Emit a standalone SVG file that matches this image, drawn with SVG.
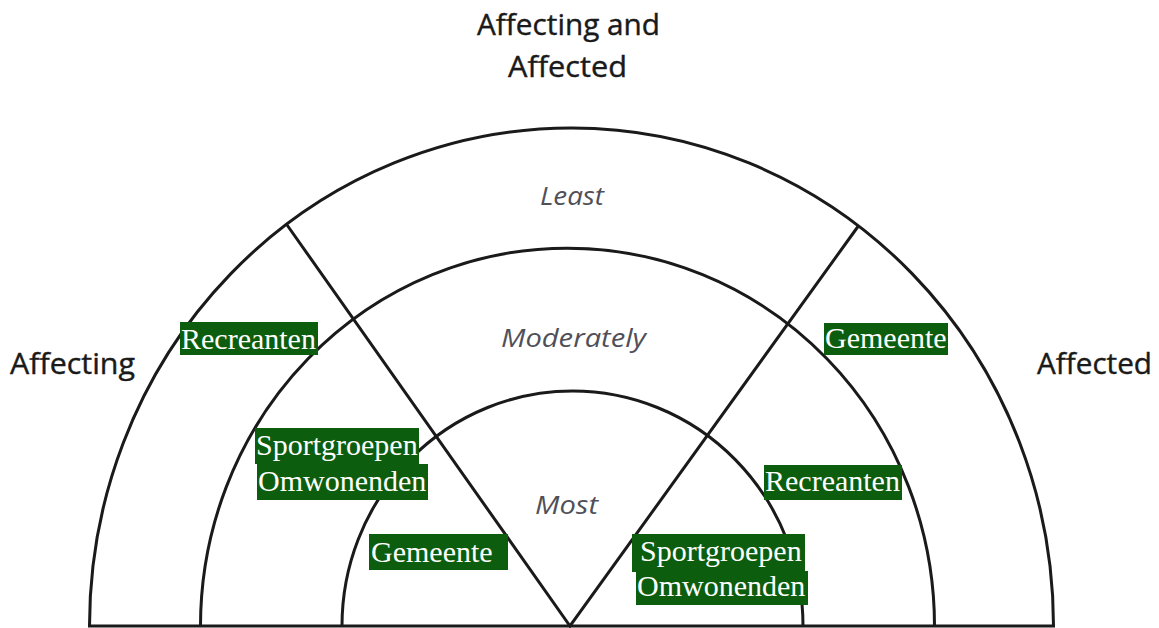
<svg xmlns="http://www.w3.org/2000/svg" width="1159" height="628" viewBox="0 0 1159 628">
  <style>
    .ln { fill: none; stroke: #1a1a1a; stroke-width: 3; stroke-linejoin: miter; }
    .hd { font-family: "Open Sans", "Liberation Sans", sans-serif; font-size: 29px; fill: #1a1a1a; stroke: #1a1a1a; stroke-width: 0.4; }
    .lv { font-family: "Open Sans", "Liberation Sans", sans-serif; font-size: 26px; font-style: italic; fill: #505058; }
    .hl { fill: #0c5e0e; }
    .tg { font-family: "Liberation Serif", "Times New Roman", serif; font-size: 30px; fill: #fff; }
  </style>
  <rect width="1159" height="628" fill="#fff"/>
  <g id="rings">
    <path class="ln" d="M 89.5 626 A 482 498 0 0 1 1053.5 626"/>
    <path class="ln" d="M 200.5 626 A 367 378 0 0 1 934.5 626"/>
    <path class="ln" d="M 342 626 A 230.5 235 0 0 1 803 626"/>
  </g>
  <g id="connectors">
    <path class="ln" d="M 286 223.5 L 570 626 L 858 226.5"/>
    <path class="ln" d="M 88 626 H 1055"/>
  </g>
  <g id="headings">
    <text class="hd" x="477" y="35" textLength="183" lengthAdjust="spacingAndGlyphs">Affecting and</text>
    <text class="hd" x="508" y="77" textLength="119" lengthAdjust="spacingAndGlyphs">Affected</text>
    <text class="hd" x="10" y="374" textLength="125" lengthAdjust="spacingAndGlyphs">Affecting</text>
    <text class="hd" x="1037" y="374" textLength="115" lengthAdjust="spacingAndGlyphs">Affected</text>
  </g>
  <g id="levels">
    <text class="lv" x="540" y="205" textLength="64" lengthAdjust="spacingAndGlyphs">Least</text>
    <text class="lv" x="501" y="347" textLength="145" lengthAdjust="spacingAndGlyphs">Moderately</text>
    <text class="lv" x="535" y="514" textLength="63" lengthAdjust="spacingAndGlyphs">Most</text>
  </g>
  <g id="left-recreanten">
    <rect class="hl" x="180" y="322" width="138" height="33"/>
    <text class="tg" x="181" y="349">Recreanten</text>
  </g>
  <g id="left-sportgroepen-omwonenden">
    <rect class="hl" x="255" y="428" width="164" height="36"/>
    <rect class="hl" x="257" y="464" width="171" height="36"/>
    <text class="tg" x="256" y="455">Sportgroepen</text>
    <text class="tg" x="258" y="491">Omwonenden</text>
  </g>
  <g id="left-gemeente">
    <rect class="hl" x="369" y="534" width="139" height="36"/>
    <text class="tg" x="371" y="562">Gemeente</text>
  </g>
  <g id="right-gemeente">
    <rect class="hl" x="824" y="323" width="124" height="32"/>
    <text class="tg" x="825" y="348">Gemeente</text>
  </g>
  <g id="right-recreanten">
    <rect class="hl" x="764" y="465" width="138" height="35"/>
    <text class="tg" x="765" y="491">Recreanten</text>
  </g>
  <g id="right-sportgroepen-omwonenden">
    <rect class="hl" x="632" y="534" width="173" height="38"/>
    <rect class="hl" x="636" y="571" width="172" height="34"/>
    <text class="tg" x="640" y="561">Sportgroepen</text>
    <text class="tg" x="637" y="596">Omwonenden</text>
  </g>
</svg>
